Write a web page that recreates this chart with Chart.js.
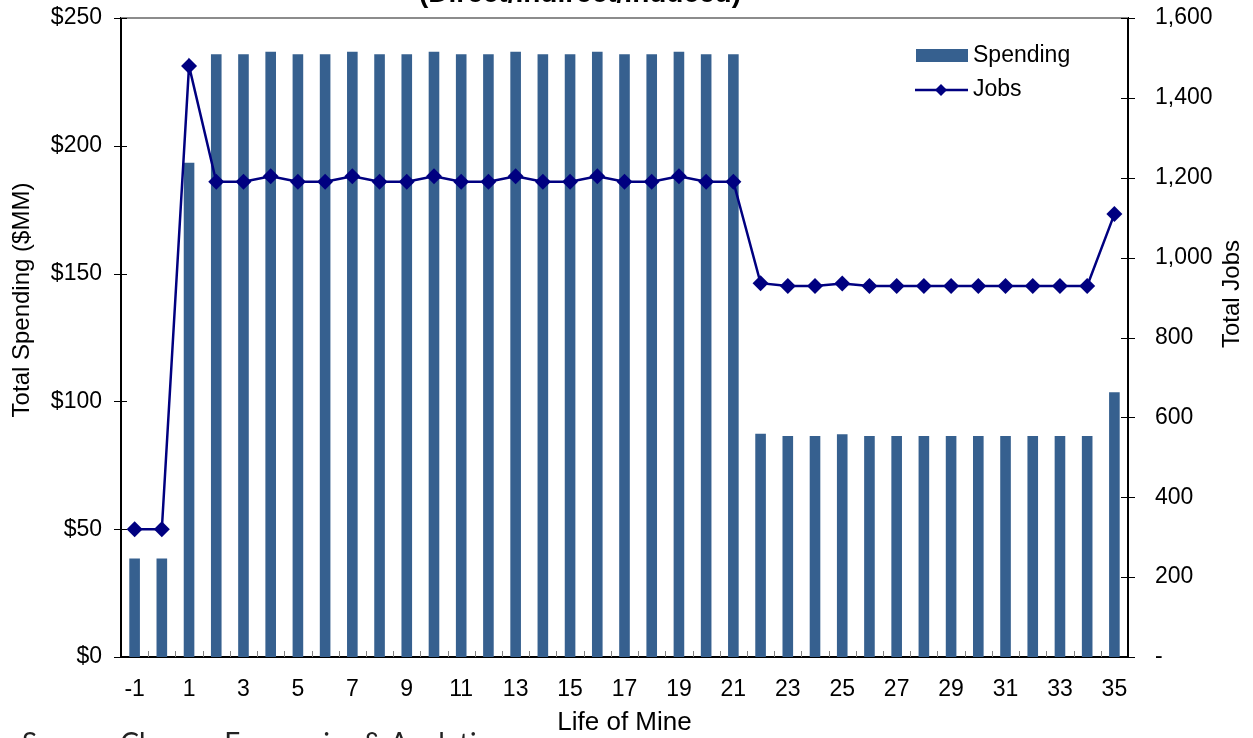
<!DOCTYPE html>
<html>
<head>
<meta charset="utf-8">
<script src="https://cdn.jsdelivr.net/npm/chart.js@4.4.1/dist/chart.umd.min.js"></script>
<style>
  html, body { margin: 0; padding: 0; background: #fff; }
  #wrap { width: 1253px; height: 738px; position: relative; }
</style>
</head>
<body>
<div id="wrap"><canvas id="mineChart"></canvas></div>
<script>
// Life of mine years
const years = ['-1', '0', '1', '2', '3', '4', '5', '6', '7', '8', '9', '10', '11', '12', '13', '14', '15', '16', '17',
    '18', '19', '20', '21', '22', '23', '24', '25', '26', '27', '28', '29', '30', '31', '32', '33', '34', '35'];

// Total spending ($MM)
const spending = [38.5, 38.5, 193.4,
    235.8, 235.8, 236.8, 235.8, 235.8, 236.8, 235.8, 235.8, 236.8, 235.8, 235.8, 236.8,
    235.8, 235.8, 236.8, 235.8, 235.8, 236.8, 235.8, 235.8,
    87.3, 86.5, 86.5, 87.1, 86.5, 86.5, 86.5, 86.5, 86.5, 86.5, 86.5, 86.5, 86.5, 103.6];

// Total jobs
const jobs = [320, 320, 1480,
    1190, 1190, 1204, 1190, 1190, 1204, 1190, 1190, 1204, 1190, 1190, 1204,
    1190, 1190, 1204, 1190, 1190, 1204, 1190, 1190,
    936, 929, 929, 935, 929, 929, 929, 929, 929, 929, 929, 929, 929, 1109];

const spendingTicks = [0, 50, 100, 150, 200, 250];
const jobsTicks = [0, 200, 400, 600, 800, 1000, 1200, 1400, 1600];

const COLORS = {
    bar: '#36608f',
    line: '#000080',
    axis: '#000',
    text: '#000'
};
const FONT = '"Liberation Sans", Arial, sans-serif';

// drop the label overhang so the plot area sits where we want it
const noPadding = scale => {
    scale.paddingTop = 0;
    scale.paddingBottom = 0;
    scale.paddingLeft = 0;
    scale.paddingRight = 0;
};

// Extra drawing: tick marks, axis titles, legend, clipped header and source line
const decorations = {
    id: 'decorations',
    afterDraw(chart) {
        const { ctx, chartArea: area, scales } = chart;
        const x = scales.x, yL = scales.ySpend, yR = scales.yJobs;
        ctx.save();

        // top frame line
        ctx.strokeStyle = '#8c8c8c';
        ctx.lineWidth = 2;
        ctx.beginPath();
        ctx.moveTo(area.left, area.top);
        ctx.lineTo(area.right, area.top);
        ctx.stroke();

        // crossing tick marks on both value axes
        ctx.strokeStyle = COLORS.axis;
        ctx.lineWidth = 1;
        spendingTicks.forEach(v => {
            const py = Math.round(yL.getPixelForValue(v)) + 0.5;
            ctx.beginPath();
            ctx.moveTo(area.left - 7, py);
            ctx.lineTo(area.left + 6, py);
            ctx.stroke();
        });
        jobsTicks.forEach(v => {
            const py = Math.round(yR.getPixelForValue(v)) + 0.5;
            ctx.beginPath();
            ctx.moveTo(area.right - 7, py);
            ctx.lineTo(area.right + 7, py);
            ctx.stroke();
        });

        // inside tick marks between categories
        ctx.strokeStyle = '#808080';
        for (let i = 0; i < years.length - 1; i++) {
            const px = Math.round((x.getPixelForValue(i) + x.getPixelForValue(i + 1)) / 2) + 0.5;
            ctx.beginPath();
            ctx.moveTo(px, area.bottom);
            ctx.lineTo(px, area.bottom - 6);
            ctx.stroke();
        }

        // axis titles
        ctx.fillStyle = COLORS.text;
        ctx.textAlign = 'center';
        ctx.textBaseline = 'middle';
        ctx.font = `26px ${FONT}`;
        ctx.fillText('Life of Mine', (area.left + area.right) / 2, 723);

        ctx.font = `24px ${FONT}`;
        ctx.save();
        ctx.translate(22, 300);
        ctx.rotate(-Math.PI / 2);
        ctx.fillText('Total Spending ($MM)', 0, 0);
        ctx.restore();

        ctx.save();
        ctx.translate(1232, 294);
        ctx.rotate(-Math.PI / 2);
        ctx.fillText('Total Jobs', 0, 0);
        ctx.restore();

        // legend
        ctx.font = `23px ${FONT}`;
        ctx.fillStyle = COLORS.bar;
        ctx.fillRect(916, 49, 52, 13);
        ctx.strokeStyle = COLORS.line;
        ctx.lineWidth = 2.5;
        ctx.beginPath();
        ctx.moveTo(915, 90);
        ctx.lineTo(968, 90);
        ctx.stroke();
        ctx.fillStyle = COLORS.line;
        ctx.beginPath();
        ctx.moveTo(941, 84);
        ctx.lineTo(947, 90);
        ctx.lineTo(941, 96);
        ctx.lineTo(935, 90);
        ctx.closePath();
        ctx.fill();
        ctx.fillStyle = COLORS.text;
        ctx.textAlign = 'left';
        ctx.fillText('Spending', 973, 56);
        ctx.fillText('Jobs', 973, 90);

        // header clipped by the top edge
        ctx.font = `bold 28px ${FONT}`;
        ctx.textAlign = 'center';
        ctx.textBaseline = 'alphabetic';
        ctx.fillText('(Direct/Indirect/Induced)', 580, 2);

        // source line clipped by the bottom edge
        ctx.font = '28px Lato, "Open Sans", sans-serif';
        ctx.fillStyle = '#222';
        ctx.textAlign = 'left';
        ctx.textBaseline = 'top';
        ctx.fillText('Source: Chmura Economics & Analytics', 22, 730);

        ctx.restore();
    }
};

document.addEventListener('DOMContentLoaded', () => {
    const ctx = document.getElementById('mineChart').getContext('2d');

    new Chart(ctx, {
        data: {
            labels: years,
            datasets: [{
                type: 'line',
                label: 'Jobs',
                data: jobs,
                yAxisID: 'yJobs',
                borderColor: COLORS.line,
                backgroundColor: COLORS.line,
                borderWidth: 2.5,
                pointStyle: 'rectRot',
                pointRadius: 8,
                pointBorderWidth: 0,
                tension: 0,
                order: 0
            }, {
                type: 'bar',
                label: 'Spending',
                data: spending,
                yAxisID: 'ySpend',
                backgroundColor: COLORS.bar,
                borderWidth: 0,
                barPercentage: 0.39,
                categoryPercentage: 1,
                order: 1
            }]
        },
        options: {
            responsive: true,
            maintainAspectRatio: false,
            animation: false,
            layout: { padding: { top: 18, left: 0, right: 0, bottom: 0 } },
            plugins: {
                legend: { display: false },
                tooltip: { enabled: false }
            },
            scales: {
                x: {
                    grid: { display: false, drawTicks: false },
                    border: { display: true, color: COLORS.axis, width: 2 },
                    ticks: {
                        autoSkip: false,
                        maxRotation: 0,
                        padding: 19,
                        color: COLORS.text,
                        font: { family: FONT, size: 23 },
                        callback: (value, index) => index % 2 === 0 ? years[index] : ''
                    },
                    afterFit: scale => { noPadding(scale); scale.height = 81; }
                },
                ySpend: {
                    position: 'left',
                    min: 0,
                    max: 250,
                    grid: { display: false, drawTicks: false },
                    border: { display: true, color: COLORS.axis, width: 2 },
                    ticks: {
                        stepSize: 50,
                        padding: 19,
                        color: COLORS.text,
                        font: { family: FONT, size: 23 },
                        callback: value => `$${value}`
                    },
                    afterFit: scale => { noPadding(scale); scale.width = 121; }
                },
                yJobs: {
                    position: 'right',
                    min: 0,
                    max: 1600,
                    grid: { display: false, drawTicks: false },
                    border: { display: true, color: COLORS.axis, width: 2 },
                    ticks: {
                        stepSize: 200,
                        padding: 27,
                        color: COLORS.text,
                        font: { family: FONT, size: 23 },
                        callback: value => value === 0 ? '-' : value.toLocaleString('en-US')
                    },
                    afterFit: scale => { noPadding(scale); scale.width = 125; }
                }
            }
        },
        plugins: [decorations]
    });
});
</script>
</body>
</html>
